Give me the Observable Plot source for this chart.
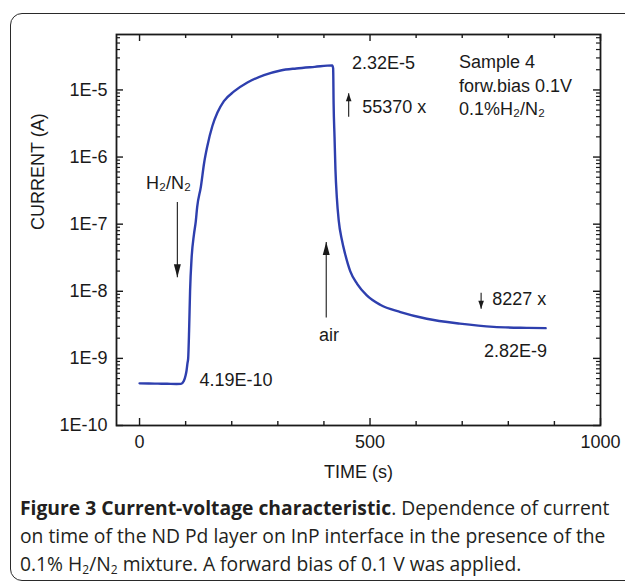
<!DOCTYPE html>
<html><head><meta charset="utf-8">
<script src="https://cdn.jsdelivr.net/npm/d3@7"></script>
<script src="https://cdn.jsdelivr.net/npm/@observablehq/plot@0.6"></script>
<style>
html,body{margin:0;padding:0;background:#fff;}
#wrap{position:relative;width:625px;height:584px;overflow:hidden;}
#box{position:absolute;left:10px;top:13px;width:660px;height:568px;border:1.5px solid #2a2a2a;border-radius:12px;box-sizing:border-box;}
#chart{position:absolute;left:0;top:0;}
#caption{position:absolute;left:20px;top:494px;white-space:nowrap;font-family:"Open Sans",sans-serif;font-size:19.3px;line-height:28px;color:#231f20;}
#caption b{font-weight:700;}
#caption sub{font-size:12px;vertical-align:-3px;line-height:0;}
</style></head>
<body>
<div id="wrap">
  <div id="box"></div>
  <div id="chart"></div>
  <div id="caption"><b>Figure 3 Current-voltage characteristic</b>. Dependence of current<br>on time of the ND Pd layer on InP interface in the presence of the<br>0.1% H<sub>2</sub>/N<sub>2</sub> mixture. A forward bias of 0.1 V was applied.</div>
</div>
<script>
// ---- data ----
const timeS = [0, 20, 40, 60, 80, 90, 96, 100, 102, 104, 105.5, 107.5, 109.6, 113, 118, 122, 125, 133, 140, 147, 158, 169, 183, 205, 234, 270, 306, 340, 380, 418,
  420, 421, 423, 425, 428, 432, 439, 446, 457, 472, 493, 522, 566, 623, 695, 768, 840, 881];
const currentA = [4.25e-10, 4.22e-10, 4.2e-10, 4.18e-10, 4.15e-10, 4.17e-10, 4.6e-10, 5.6e-10, 6.6e-10, 8.5e-10, 1.0e-9, 2.6e-9, 1.0e-8, 3.2e-8, 7.0e-8, 1.1e-7, 1.8e-7, 3.6e-7, 8.1e-7, 1.45e-6, 2.9e-6, 4.6e-6, 6.8e-6, 9.5e-6, 1.29e-5, 1.66e-5, 1.95e-5, 2.09e-5, 2.21e-5, 2.32e-5,
  2.1e-5, 6.3e-6, 2.0e-6, 6.5e-7, 2.5e-7, 1.15e-7, 5.8e-8, 3.6e-8, 2.0e-8, 1.29e-8, 8.7e-9, 6.3e-9, 4.9e-9, 3.9e-9, 3.3e-9, 2.95e-9, 2.85e-9, 2.82e-9];

const xLabelTicks = [0, 500, 1000];
const xMinorTicks = [100, 200, 300, 400, 600, 700, 800, 900];
const yMajorTicks = [1e-10, 1e-9, 1e-8, 1e-7, 1e-6, 1e-5];
const yMinorTicks = yMajorTicks.flatMap(d => [2,3,4,5,6,7,8,9].map(m => m * d)).filter(v => v < 6.7e-5);

const labelText = ["H\u2082/N\u2082", "4.19E-10", "2.32E-5", "55370 x", "Sample 4", "forw.bias 0.1V", "0.1%H\u2082/N\u2082", "air", "8227 x", "2.82E-9"];
const labelT    = [63, 130, 461, 483, 693, 693, 693, 411, 765, 747];
const labelI    = [4.1e-7, 4.65e-10, 2.49e-5, 5.5e-6, 2.57e-5, 1.14e-5, 5.1e-6, 2.2e-9, 7.6e-9, 1.3e-9];
const labelAlign = ["middle", "start", "start", "start", "start", "start", "start", "middle", "start", "start"];

const arrowT    = [82, 453.7, 405, 741];
const arrowFrom = [2.14e-7, 3.98e-6, 4.07e-9, 9.5e-9];
const arrowTo   = [1.62e-8, 8.9e-6, 5.4e-8, 5.5e-9];
const arrowBig  = [true, false, true, false];

// ---- derived tables ----
const series = timeS.map((t, k) => ({t, i: currentA[k]}));
const labels = labelText.map((s, k) => ({s, t: labelT[k], i: labelI[k], a: labelAlign[k]}));
const arrows = arrowT.map((t, k) => ({t, from: arrowFrom[k], to: arrowTo[k], big: arrowBig[k], up: arrowTo[k] > arrowFrom[k]}));

const headBig = {draw(ctx) { ctx.moveTo(0, 0); ctx.lineTo(-3.5, 13); ctx.lineTo(3.5, 13); ctx.closePath(); }};
const headSmall = {draw(ctx) { ctx.moveTo(0, 0); ctx.lineTo(-2.8, 8); ctx.lineTo(2.8, 8); ctx.closePath(); }};

const W = 625, H = 492, ML = 116, MR = 25, MT = 34, MB = 67;
const FW = W - ML - MR, FH = H - MT - MB;
const ink = "#1a1a1a";

const chart = Plot.plot({
  width: W, height: H,
  marginLeft: ML, marginRight: MR, marginTop: MT, marginBottom: MB,
  style: {fontFamily: "'Liberation Sans', Arial, sans-serif", fontSize: "18px", color: ink, background: "transparent"},
  x: {domain: [-50, 1000]},
  y: {type: "log", domain: [1e-10, 6.7e-5]},
  marks: [
    // ticks (inward)
    Plot.ruleX(xLabelTicks, {x: d => d, insetTop: FH - 7, stroke: ink, strokeWidth: 1.4}),
    Plot.ruleX(xLabelTicks, {x: d => d, insetBottom: FH - 7, stroke: ink, strokeWidth: 1.4}),
    Plot.ruleX(xMinorTicks, {x: d => d, insetTop: FH - 4, stroke: ink, strokeWidth: 1.4}),
    Plot.ruleX(xMinorTicks, {x: d => d, insetBottom: FH - 4, stroke: ink, strokeWidth: 1.4}),
    Plot.ruleY(yMajorTicks, {y: d => d, insetRight: FW - 7, stroke: ink, strokeWidth: 1.4}),
    Plot.ruleY(yMajorTicks, {y: d => d, insetLeft: FW - 7, stroke: ink, strokeWidth: 1.4}),
    Plot.ruleY(yMinorTicks, {y: d => d, insetRight: FW - 4, stroke: ink, strokeWidth: 1.2}),
    Plot.ruleY(yMinorTicks, {y: d => d, insetLeft: FW - 4, stroke: ink, strokeWidth: 1.2}),
    Plot.frame({stroke: ink, strokeWidth: 1.8}),
    Plot.axisX({ticks: xLabelTicks, tickSize: 0, tickPadding: 10, tickFormat: d => String(d), label: null}),
    Plot.axisY({ticks: yMajorTicks, tickSize: 0, tickPadding: 9, tickFormat: d => "1E" + Math.round(Math.log10(d)), label: null}),
    Plot.text(["TIME (s)"], {frameAnchor: "bottom", dy: 52, fill: ink}),
    Plot.text(["CURRENT (A)"], {frameAnchor: "left", rotate: -90, dx: -78, fill: ink}),
    // data
    Plot.line(series, {x: "t", y: "i", stroke: "#2e3fae", strokeWidth: 2.4, curve: "monotone-x"}),
    // annotations
    Plot.link(arrows, {x1: "t", x2: "t", y1: "from", y2: "to", stroke: ink, strokeWidth: 1.1}),
    Plot.dot(arrows.filter(d => d.big), {x: "t", y: "to", symbol: headBig, fill: ink, stroke: "none", rotate: d => d.up ? 0 : 180}),
    Plot.dot(arrows.filter(d => !d.big), {x: "t", y: "to", symbol: headSmall, fill: ink, stroke: "none", rotate: d => d.up ? 0 : 180}),
    Plot.text(labels.filter(d => d.a === "start"), {x: "t", y: "i", text: "s", textAnchor: "start", lineAnchor: "middle", fill: ink}),
    Plot.text(labels.filter(d => d.a === "middle"), {x: "t", y: "i", text: "s", textAnchor: "middle", lineAnchor: "middle", fill: ink})
  ]
});
document.getElementById("chart").appendChild(chart);
</script>
</body></html>
